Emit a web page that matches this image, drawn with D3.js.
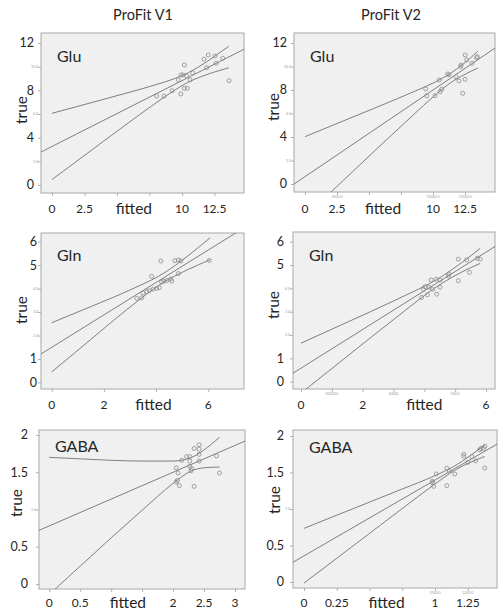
<!DOCTYPE html>
<meta charset="utf-8">
<style>
body { margin: 0; background: #fff; }
svg { font-family: Lato, "Open Sans", sans-serif; }
</style>
<svg width="503" height="611"></svg>
<script src="https://d3js.org/d3.v7.min.js"></script>
<script>

// column titles and metabolite names
var columnTitles = ["ProFit V1", "ProFit V2"];
var metabolites = ["Glu", "Gln", "GABA"];

// ---- Glu, ProFit V1 ----
var glu1Points = [[8.05,7.52],[8.62,7.52],[9.25,7.97],[9.92,7.69],[10.18,8.17],[10.41,8.17],[9.72,8.88],
  [9.92,9.30],[10.08,9.30],[10.36,9.21],[10.62,8.88],[10.82,9.49],[10.18,10.14],[11.69,10.63],
  [12.02,10.99],[11.9,9.92],[12.54,10.90],[12.62,10.29],[13.13,10.71],[13.62,8.82]];
var glu1Fit = [[-1, 2.70], [15, 11.60]];
var glu1BandX = [0, 3, 6, 8, 9.5, 10.5, 11.5, 12.5, 13.6];
var glu1Upper = [6.06, 6.95, 7.85, 8.48, 9.02, 9.50, 10.13, 10.87, 11.73];
var glu1Lower = [0.46, 2.91, 5.35, 6.94, 8.06, 8.70, 9.17, 9.55, 9.91];

// ---- Glu, ProFit V2 ----
var glu2Points = [[9.43,8.09],[9.51,7.51],[10.16,7.51],[10.55,7.86],[10.68,8.06],[10.49,8.85],[11.15,9.36],
  [11.25,9.30],[11.80,9.13],[12.03,8.77],[12.16,9.98],[12.19,10.13],[12.50,8.91],[12.32,7.72],
  [12.52,10.98],[12.63,10.55],[13.05,10.27],[13.41,10.75],[13.46,10.83]];
var glu2Fit = [[-1, -0.11], [15.5, 12.05]];
var glu2BandX = [0, 3, 6, 8.5, 10, 11.5, 12.5, 13.5];
var glu2Upper = [4.03, 5.37, 6.71, 7.86, 8.59, 9.51, 10.34, 11.29];
var glu2Lower = [-2.77, 0.31, 3.39, 5.92, 7.41, 8.71, 9.34, 9.87];

// ---- Gln, ProFit V1 ----
var gln1Points = [[4.18,5.18],[4.72,5.19],[4.85,5.22],[4.95,5.18],[6.04,5.20],[3.83,4.52],[4.85,4.64],
  [4.56,4.41],[4.60,4.32],[4.21,4.28],[4.30,4.32],[4.41,4.34],[4.12,4.04],[4.02,4.01],[3.89,3.98],
  [3.74,3.91],[3.64,3.87],[3.45,3.61],[3.26,3.58],[3.50,3.81]];
var gln1Fit = [[-1, 0.80], [8, 7.03]];
var gln1BandX = [0, 1.5, 3, 4.3, 5.2, 6.07];
var gln1Upper = [2.54, 3.23, 3.94, 4.66, 5.38, 6.17];
var gln1Lower = [0.44, 1.83, 3.21, 4.28, 4.80, 5.23];

// ---- Gln, ProFit V2 ----
var gln2Points = [[3.91,3.61],[3.97,3.96],[4.02,4.07],[4.10,3.72],[4.15,4.05],[4.22,4.36],[4.27,3.96],
  [4.38,4.39],[4.40,3.75],[4.51,4.36],[4.51,4.05],[4.78,4.53],[4.80,4.62],[5.10,5.25],[5.10,4.33],
  [5.37,5.22],[5.46,4.69],[5.72,5.29],[5.81,5.25]];
var gln2Fit = [[-1, -0.25], [7, 6.38]];
var gln2BandX = [0, 1.5, 3, 4.6, 5.2, 5.81];
var gln2Upper = [1.65, 2.55, 3.46, 4.54, 5.09, 5.71];
var gln2Lower = [-0.49, 1.09, 2.66, 4.24, 4.69, 5.07];

// ---- GABA, ProFit V1 ----
var gaba1Points = [[2.42,1.87],[2.42,1.81],[2.34,1.82],[2.42,1.74],[2.70,1.72],[2.22,1.71],[2.27,1.71],
  [2.14,1.66],[2.27,1.65],[2.42,1.65],[2.05,1.56],[2.27,1.58],[2.30,1.55],[2.29,1.52],[2.08,1.49],
  [2.75,1.49],[2.05,1.37],[2.07,1.39],[2.10,1.32],[2.34,1.31]];
var gaba1Fit = [[-0.5, 0.60], [3.5, 2.04]];
var gaba1BandX = [0, 0.5, 1, 1.5, 2, 2.3, 2.5, 2.75];
var gaba1Upper = [1.70, 1.68, 1.66, 1.65, 1.65, 1.70, 1.80, 1.97];
var gaba1Lower = [-0.14, 0.24, 0.62, 0.99, 1.35, 1.52, 1.56, 1.57];

// ---- GABA, ProFit V2 ----
var gaba2Points = [[1.38,1.86],[1.37,1.83],[1.35,1.83],[1.34,1.81],[1.28,1.72],[1.22,1.75],[1.22,1.72],
  [1.31,1.66],[1.25,1.64],[1.38,1.56],[1.09,1.56],[1.11,1.52],[1.15,1.48],[1.01,1.48],[0.98,1.38],
  [0.98,1.36],[0.99,1.31],[1.09,1.32]];
var gaba2Fit = [[-0.2, 0.15], [1.6, 2.02]];
var gaba2BandX = [0, 0.25, 0.5, 0.75, 1, 1.15, 1.38];
var gaba2Upper = [0.735, 0.915, 1.094, 1.274, 1.457, 1.59, 1.88];
var gaba2Lower = [-0.015, 0.325, 0.666, 1.006, 1.343, 1.53, 1.72];

// tick values (marks), big labels, faint SPSS labels
var gluYTicks = [0, 2, 4, 6, 8, 10, 12], gluYBig = [12, 8, 4, 0], gluYSmall = [10, 6, 2];
var glnYTicks = [0, 1, 2, 3, 4, 5, 6], glnYBig = [6, 5, 1, 0], glnYSmall = [4, 3, 2];
var gabaYTicks = [0, 0.5, 1, 1.5, 2], gabaYBig = [2, 1.5, 0.5, 0], gabaYSmall = [1];
var gluXTicks = [0, 2.5, 5, 7.5, 10, 12.5], gluXBig = [0, 2.5, 10, 12.5];
var gln1XTicks = [0, 2, 4, 6], gln2XTicks = [0, 1, 2, 3, 4, 5, 6], glnXBig = [0, 2, 6];
var gaba1XTicks = [0, 0.5, 1, 1.5, 2, 2.5, 3], gaba1XBig = [0, 0.5, 2, 2.5, 3];
var gaba2XTicks = [0, 0.25, 0.5, 0.75, 1, 1.25], gaba2XBig = [0, 0.25, 1, 1.25];
var glu2XSmall = [[2.5, "2500.0"], [10, "10000.0"], [12.5, "12500.0"]];
var gln2XSmall = [[1, "10000.0"], [3, "30000"], [5, "500.0"]];
var gaba2XSmall = [[1, "1000.0"], [1.25, "1250.0"]];

// layout of the six panels (pixel geometry only)
var panels = [
  { name: metabolites[0], box: [41, 33, 244, 193], xRef: [0, 12.5], xPx: [52, 214.5], yRef: [0, 12], yPx: [185, 43],
    pts: glu1Points, fit: glu1Fit, bx: glu1BandX, up: glu1Upper, lo: glu1Lower,
    yTicks: gluYTicks, yBig: gluYBig, ySmall: gluYSmall, xTicks: gluXTicks, xBig: gluXBig, xSmall: [], fittedAt: 6.3,
    labEnd: 34, trueX: 22, trueY: 110, xLabY: 213, nameY: 62 },
  { name: metabolites[0], box: [294, 33, 495, 192], xRef: [0, 12.5], xPx: [305, 465], yRef: [0, 12], yPx: [184, 43],
    pts: glu2Points, fit: glu2Fit, bx: glu2BandX, up: glu2Upper, lo: glu2Lower,
    yTicks: gluYTicks, yBig: gluYBig, ySmall: gluYSmall, xTicks: gluXTicks, xBig: gluXBig, xSmall: glu2XSmall, fittedAt: 6.1,
    labEnd: 287, trueX: 274, trueY: 107, xLabY: 213, nameY: 62 },
  { name: metabolites[1], box: [41, 233, 244, 389], xRef: [0, 6], xPx: [51.7, 208.3], yRef: [0, 6], yPx: [382.3, 241.7],
    pts: gln1Points, fit: gln1Fit, bx: gln1BandX, up: gln1Upper, lo: gln1Lower,
    yTicks: glnYTicks, yBig: glnYBig, ySmall: glnYSmall, xTicks: gln1XTicks, xBig: glnXBig, xSmall: [], fittedAt: 3.9,
    labEnd: 37, trueX: 22, trueY: 310, xLabY: 409, nameY: 261 },
  { name: metabolites[1], box: [293, 232, 495, 389], xRef: [0, 6], xPx: [301, 486], yRef: [0, 6], yPx: [381.7, 241.7],
    pts: gln2Points, fit: gln2Fit, bx: gln2BandX, up: gln2Upper, lo: gln2Lower,
    yTicks: glnYTicks, yBig: glnYBig, ySmall: glnYSmall, xTicks: gln2XTicks, xBig: glnXBig, xSmall: gln2XSmall, fittedAt: 4.0,
    labEnd: 284, trueX: 274, trueY: 305, xLabY: 409, nameY: 261 },
  { name: metabolites[2], box: [39, 430, 245, 589], xRef: [0, 3], xPx: [49.3, 235], yRef: [0, 2], yPx: [584, 435],
    pts: gaba1Points, fit: gaba1Fit, bx: gaba1BandX, up: gaba1Upper, lo: gaba1Lower,
    yTicks: gabaYTicks, yBig: gabaYBig, ySmall: gabaYSmall, xTicks: gaba1XTicks, xBig: gaba1XBig, xSmall: [], fittedAt: 1.27,
    labEnd: 28, trueX: 17, trueY: 503, xLabY: 607, nameY: 452 },
  { name: metabolites[2], box: [293, 430, 497, 588], xRef: [0, 1.25], xPx: [304, 467.8], yRef: [0, 2], yPx: [582, 436],
    pts: gaba2Points, fit: gaba2Fit, bx: gaba2BandX, up: gaba2Upper, lo: gaba2Lower,
    yTicks: gabaYTicks, yBig: gabaYBig, ySmall: gabaYSmall, xTicks: gaba2XTicks, xBig: gaba2XBig, xSmall: gaba2XSmall, fittedAt: 0.63,
    labEnd: 284, trueX: 275, trueY: 500, xLabY: 607, nameY: 453 }
];

var svg = d3.select("svg");
var textColor = "#262626", lineColor = "#727272";

// column headings
svg.selectAll(".coltitle")
    .data(columnTitles)
  .enter().append("text")
    .attr("x", function(d, i) { return i ? 391 : 143; })
    .attr("y", 20)
    .attr("text-anchor", "middle")
    .attr("font-size", 14.5)
    .attr("fill", textColor)
    .text(function(d) { return d; });

panels.forEach(function(p, i) {
  var x = d3.scaleLinear().domain(p.xRef).range(p.xPx),
      y = d3.scaleLinear().domain(p.yRef).range(p.yPx),
      b = p.box;
  var g = svg.append("g");

  g.append("clipPath").attr("id", "clip" + i)
    .append("rect")
      .attr("x", b[0]).attr("y", b[1]).attr("width", b[2] - b[0]).attr("height", b[3] - b[1]);

  // plot frame
  g.append("rect")
      .attr("x", b[0]).attr("y", b[1])
      .attr("width", b[2] - b[0]).attr("height", b[3] - b[1])
      .attr("fill", "#f0f0f0")
      .attr("stroke", "#a8a8a8");

  // tick marks
  g.append("g")
      .attr("transform", "translate(" + b[0] + ",0)")
      .call(d3.axisLeft(y).tickValues(p.yTicks).tickSize(3).tickFormat(""))
      .call(function(a) { a.select(".domain").remove(); a.selectAll("line").attr("stroke", "#b0b0b0"); });
  g.append("g")
      .attr("transform", "translate(0," + b[3] + ")")
      .call(d3.axisBottom(x).tickValues(p.xTicks).tickSize(3).tickFormat(""))
      .call(function(a) { a.select(".domain").remove(); a.selectAll("line").attr("stroke", "#b0b0b0"); });

  // fit line, confidence bands, points
  var plot = g.append("g").attr("clip-path", "url(#clip" + i + ")");
  var line = d3.line().x(function(d) { return x(d[0]); }).y(function(d) { return y(d[1]); });
  var band = d3.line().curve(d3.curveMonotoneX).x(function(d) { return x(d[0]); }).y(function(d) { return y(d[1]); });

  plot.append("path").datum(p.fit).attr("d", line)
      .attr("fill", "none").attr("stroke", lineColor).attr("stroke-width", 0.9);
  [p.up, p.lo].forEach(function(vals) {
    plot.append("path").datum(d3.zip(p.bx, vals)).attr("d", band)
        .attr("fill", "none").attr("stroke", lineColor).attr("stroke-width", 0.9);
  });
  plot.selectAll("circle")
      .data(p.pts)
    .enter().append("circle")
      .attr("cx", function(d) { return x(d[0]); })
      .attr("cy", function(d) { return y(d[1]); })
      .attr("r", 2)
      .attr("fill", "none")
      .attr("stroke", "#8a8a8a")
      .attr("stroke-width", 0.8);

  // metabolite name
  g.append("text")
      .attr("x", b[0] + 16).attr("y", p.nameY)
      .attr("font-size", 16)
      .attr("fill", textColor)
      .text(p.name);

  // big y labels
  g.selectAll(".ybig")
      .data(p.yBig)
    .enter().append("text")
      .attr("x", p.labEnd)
      .attr("y", function(d) { return y(d); })
      .attr("dy", "0.35em")
      .attr("text-anchor", "end")
      .attr("font-size", 12.5)
      .attr("fill", textColor)
      .text(function(d) { return String(d); });

  // faint original SPSS labels
  g.selectAll(".ysmall")
      .data(p.ySmall)
    .enter().append("text")
      .attr("x", b[0] - 3)
      .attr("y", function(d) { return y(d); })
      .attr("dy", "0.35em")
      .attr("text-anchor", "end")
      .attr("font-size", 3.5)
      .attr("fill", "#9a9a9a")
      .text(d3.format(".1f"));

  g.selectAll(".xsmall")
      .data(p.xSmall)
    .enter().append("text")
      .attr("x", function(d) { return x(d[0]); })
      .attr("y", b[3] + 6)
      .attr("text-anchor", "middle")
      .attr("font-size", 3.5)
      .attr("fill", "#9a9a9a")
      .text(function(d) { return d[1]; });

  // big x labels
  g.selectAll(".xbig")
      .data(p.xBig)
    .enter().append("text")
      .attr("x", function(d) { return x(d); })
      .attr("y", p.xLabY)
      .attr("text-anchor", "middle")
      .attr("font-size", 12)
      .attr("fill", textColor)
      .text(function(d) { return String(d); });

  g.append("text")
      .attr("x", x(p.fittedAt))
      .attr("y", p.xLabY + 1)
      .attr("text-anchor", "middle")
      .attr("font-size", 15.5)
      .attr("fill", textColor)
      .text("fitted");

  g.append("text")
      .attr("transform", "translate(" + (p.trueX + 5) + "," + p.trueY + ") rotate(-90)")
      .attr("text-anchor", "middle")
      .attr("font-size", 15.5)
      .attr("fill", textColor)
      .text("true");
});

</script>
